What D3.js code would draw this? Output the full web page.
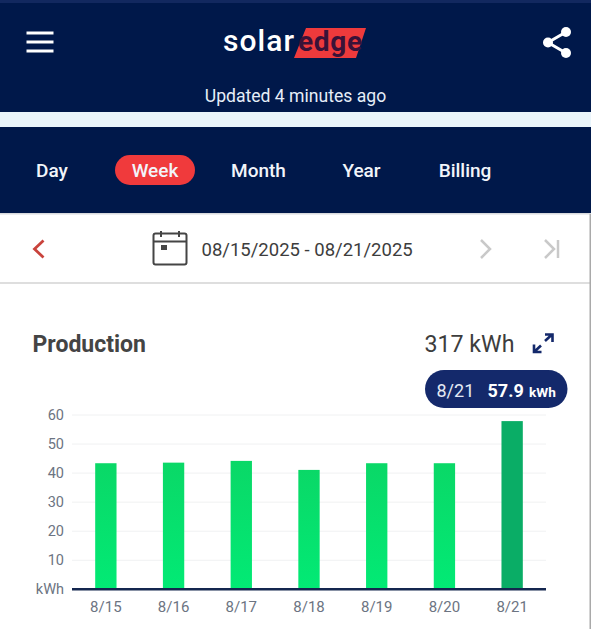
<!DOCTYPE html>
<html>
<head>
<meta charset="utf-8">
<script src="https://cdn.jsdelivr.net/npm/d3@7"></script>
<style>
    html, body { margin: 0; padding: 0; background: #fff; }
    svg { display: block; font-family: Roboto, sans-serif; }
    .grid line { stroke: #f0f1f2; stroke-width: 1; }
    .tick text { fill: #6c7482; }
</style>
</head>
<body>
<svg id="chart" width="591" height="629"></svg>
<script>
"use strict";

////////// values
const days = ["8/15", "8/16", "8/17", "8/18", "8/19", "8/20", "8/21"];
const production = [43.4, 43.6, 44.2, 41.1, 43.4, 43.4, 57.9];
const y_ticks = [0, 10, 20, 30, 40, 50, 60];
const selected_day = "8/21";

const tabs = ["Day", "Week", "Month", "Year", "Billing"];
const tab_centers = [52, 155, 258.5, 361.5, 465];

const navy = "#00184a", pill = "#14296b", red = "#f03a3c";

const svg = d3.select("#chart");

function text(x, y, str, size, fill, anchor, weight) {
    return svg.append("text")
        .attr("x", x).attr("y", y)
        .attr("font-size", size).attr("fill", fill)
        .attr("text-anchor", anchor || "start")
        .attr("font-weight", weight || 400)
        .text(str);
}

function stroke_path(d, color, width) {
    return svg.append("path").attr("d", d)
        .attr("fill", "none").attr("stroke", color)
        .attr("stroke-width", width);
}

////////// header
svg.append("rect").attr("width", 591).attr("height", 112).attr("fill", navy);
svg.append("rect").attr("width", 591).attr("height", 3).attr("fill", "#12285f");
svg.append("rect").attr("y", 112).attr("width", 591).attr("height", 15).attr("fill", "#eaf5fb");
svg.append("rect").attr("y", 127).attr("width", 591).attr("height", 86).attr("fill", navy);
svg.append("rect").attr("y", 213).attr("width", 591).attr("height", 1.5).attr("fill", "#d8dadd");

// hamburger
[33, 42, 51].forEach(y => stroke_path(`M26.5,${y}H53.5`, "#fff", 3));

// logo
text(223, 50.5, "solar", 30, "#fff", "start", 500).attr("textLength", 71);
svg.append("path").attr("d", "M306,28H366L356,58H294Z").attr("fill", "#ee3a3c");
text(298, 50.5, "edge", 28, "#3a1238", "start", 700).attr("textLength", 64);

// share icon
stroke_path("M566,32L548,42.5L566,53", "#fff", 3);
[[566, 32], [548, 42.5], [566, 53]].forEach(c =>
    svg.append("circle").attr("cx", c[0]).attr("cy", c[1]).attr("r", 5).attr("fill", "#fff"));

text(295.5, 102, "Updated 4 minutes ago", 17.6, "#e6eef8", "middle");

////////// tabs
svg.append("rect").attr("x", 115).attr("y", 155).attr("width", 80).attr("height", 30)
    .attr("rx", 15).attr("fill", red);
tabs.forEach((t, i) => text(tab_centers[i], 177, t, 19, "#f2f5fa", "middle", 500));

////////// date row
stroke_path("M43.5,240.5L34.5,249L43.5,257.5", "#c9433c", 2.8);
svg.append("rect").attr("x", 153.5).attr("y", 233.5).attr("width", 33).attr("height", 31)
    .attr("rx", 2).attr("fill", "none").attr("stroke", "#454545").attr("stroke-width", 2);
stroke_path("M153.5,241.5H186.5M161,231V237M179,231V237", "#454545", 2);
svg.append("rect").attr("x", 161).attr("y", 245).attr("width", 6).attr("height", 5).attr("fill", "#454545");
text(201.5, 256, "08/15/2025 - 08/21/2025", 18.5, "#3d3d3d");
stroke_path("M481,240L490,249L481,258", "#c9c9c9", 2.5);
stroke_path("M545,240L554,249L545,258M558,240V258", "#c9c9c9", 2.5);
svg.append("rect").attr("y", 282).attr("width", 591).attr("height", 2).attr("fill", "#dedede");
svg.append("rect").attr("x", 589.5).attr("y", 214).attr("width", 1.5).attr("height", 415).attr("fill", "#a9a9a9");

////////// chart titles
text(32.5, 352, "Production", 23, "#444", "start", 700);
text(424.5, 352, "317 kWh", 23.2, "#3d3d3d");
// expand icon, two arrows with a gap between them
stroke_path("M545,341L552,334.5M545,334.5H552.5V342", pill, 2.6);
stroke_path("M534,352L541,345.5M534,344.5V352H541.5", pill, 2.6);

svg.append("rect").attr("x", 425).attr("y", 370).attr("width", 142.5).attr("height", 38)
    .attr("rx", 19).attr("fill", pill);
text(436.5, 397, selected_day, 18, "#e4e9f4");
text(487.5, 397, production[days.indexOf(selected_day)], 18, "#fff", "start", 700);
text(529, 397, "kWh", 13.6, "#fff", "start", 700);

////////// the bars
const x = d3.scaleBand().domain(days).range([72, 546]).paddingInner(0.685).paddingOuter(0.3425);
const y = d3.scaleLinear().domain([0, 60]).range([589.3, 415]);

const defs = svg.append("defs");
const grad = defs.append("linearGradient").attr("id", "bar_green")
    .attr("x1", 0).attr("y1", 0).attr("x2", 0).attr("y2", 1);
grad.append("stop").attr("offset", "0%").attr("stop-color", "#0ad867");
grad.append("stop").attr("offset", "100%").attr("stop-color", "#02ea75");

svg.append("g").attr("class", "grid")
    .selectAll("line").data(y_ticks.slice(1)).join("line")
    .attr("x1", 72).attr("x2", 546)
    .attr("y1", d => y(d)).attr("y2", d => y(d));

svg.append("g").selectAll("rect").data(days).join("rect")
    .attr("x", d => x(d))
    .attr("width", x.bandwidth())
    .attr("y", (d, i) => y(production[i]))
    .attr("height", (d, i) => y(0) - y(production[i]))
    .attr("fill", d => d == selected_day ? "#0aad66" : "url(#bar_green)");

////////// axes
const y_axis = d3.axisLeft(y).tickValues(y_ticks).tickSize(0).tickPadding(8)
    .tickFormat(d => d == 0 ? "kWh" : d);
svg.append("g").attr("transform", "translate(72,0)").call(y_axis)
    .call(g => g.select(".domain").remove())
    .selectAll("text").attr("font-size", 14.5).attr("font-family", "Roboto, sans-serif");

const x_axis = d3.axisBottom(x).tickSize(0).tickPadding(12);
svg.append("g").attr("transform", "translate(0,589.3)").call(x_axis)
    .call(g => g.select(".domain").remove())
    .selectAll("text").attr("font-size", 15).attr("font-family", "Roboto, sans-serif");

svg.append("line").attr("x1", 72).attr("x2", 546)
    .attr("y1", y(0)).attr("y2", y(0))
    .attr("stroke", "#14264f").attr("stroke-width", 2.5);
</script>
</body>
</html>
